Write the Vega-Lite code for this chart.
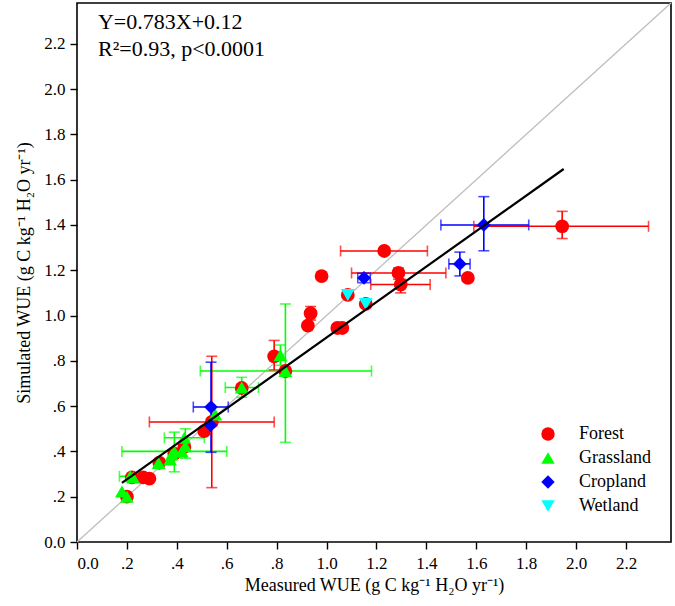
{
  "$schema": "https://vega.github.io/schema/vega-lite/v6.json",
  "width": 594,
  "height": 539,
  "autosize": "none",
  "padding": {"left": 77, "top": 3, "right": 4, "bottom": 64},
  "background": "white",
  "config": {
    "font": "Liberation Serif, Times New Roman, serif",
    "view": {"stroke": "black", "strokeWidth": 1.6},
    "axis": {
      "domain": false, "grid": false, "tickColor": "black", "tickSize": 7, "tickWidth": 1.4,
      "labelColor": "black", "labelFontSize": 17, "labelFont": "Liberation Serif, Times New Roman, serif",
      "titleFont": "Liberation Serif, Times New Roman, serif", "titleFontSize": 18, "titleFontWeight": "normal", "titleColor": "black"
    },
    "legend": {"orient": "none", "legendX": 462, "legendY": 422, "labelFontSize": 18, "labelFont": "Liberation Serif, Times New Roman, serif", "labelColor": "black", "symbolSize": 180, "symbolOpacity": 1, "labelOffset": 22, "rowPadding": 6, "symbolStrokeWidth": 0, "padding": 0, "titleFontSize": 0}
  },
  "datasets": {
    "pts": [
      {"type": "Forest", "x": 0.20, "y": 0.20},
      {"type": "Forest", "x": 0.22, "y": 0.285},
      {"type": "Forest", "x": 0.265, "y": 0.285},
      {"type": "Forest", "x": 0.29, "y": 0.28},
      {"type": "Forest", "x": 0.33, "y": 0.35},
      {"type": "Forest", "x": 0.39, "y": 0.39},
      {"type": "Forest", "x": 0.43, "y": 0.42},
      {"type": "Forest", "x": 0.51, "y": 0.49},
      {"type": "Forest", "x": 0.54, "y": 0.53, "xlo": 0.29, "xhi": 0.79, "ylo": 0.24, "yhi": 0.82},
      {"type": "Forest", "x": 0.66, "y": 0.68},
      {"type": "Forest", "x": 0.79, "y": 0.82, "ylo": 0.76, "yhi": 0.89},
      {"type": "Forest", "x": 0.835, "y": 0.755},
      {"type": "Forest", "x": 0.925, "y": 0.955},
      {"type": "Forest", "x": 0.936, "y": 1.01, "ylo": 0.98, "yhi": 1.04},
      {"type": "Forest", "x": 0.98, "y": 1.174},
      {"type": "Forest", "x": 1.043, "y": 0.945},
      {"type": "Forest", "x": 1.063, "y": 0.945},
      {"type": "Forest", "x": 1.085, "y": 1.091},
      {"type": "Forest", "x": 1.157, "y": 1.051},
      {"type": "Forest", "x": 1.231, "y": 1.285, "xlo": 1.056, "xhi": 1.404},
      {"type": "Forest", "x": 1.288, "y": 1.188, "xlo": 1.10, "xhi": 1.478, "ylo": 1.16, "yhi": 1.21},
      {"type": "Forest", "x": 1.297, "y": 1.137, "xlo": 1.177, "xhi": 1.415, "ylo": 1.10, "yhi": 1.16},
      {"type": "Forest", "x": 1.566, "y": 1.166},
      {"type": "Forest", "x": 1.944, "y": 1.394, "xlo": 1.59, "xhi": 2.29, "ylo": 1.34, "yhi": 1.46},
      {"type": "Grassland", "x": 0.18, "y": 0.223},
      {"type": "Grassland", "x": 0.20, "y": 0.20},
      {"type": "Grassland", "x": 0.213, "y": 0.29, "xlo": 0.17, "xhi": 0.26},
      {"type": "Grassland", "x": 0.225, "y": 0.285},
      {"type": "Grassland", "x": 0.327, "y": 0.349},
      {"type": "Grassland", "x": 0.373, "y": 0.364},
      {"type": "Grassland", "x": 0.38, "y": 0.386},
      {"type": "Grassland", "x": 0.39, "y": 0.40, "xlo": 0.18, "xhi": 0.60, "ylo": 0.31, "yhi": 0.485},
      {"type": "Grassland", "x": 0.42, "y": 0.40},
      {"type": "Grassland", "x": 0.434, "y": 0.423, "ylo": 0.37, "yhi": 0.50},
      {"type": "Grassland", "x": 0.43, "y": 0.46, "xlo": 0.35, "xhi": 0.51},
      {"type": "Grassland", "x": 0.554, "y": 0.563},
      {"type": "Grassland", "x": 0.66, "y": 0.682, "xlo": 0.594, "xhi": 0.727, "ylo": 0.639, "yhi": 0.727},
      {"type": "Grassland", "x": 0.815, "y": 0.825, "ylo": 0.78, "yhi": 0.87},
      {"type": "Grassland", "x": 0.835, "y": 0.755, "xlo": 0.494, "xhi": 1.18, "ylo": 0.44, "yhi": 1.051},
      {"type": "Cropland", "x": 0.535, "y": 0.515},
      {"type": "Cropland", "x": 0.537, "y": 0.596, "xlo": 0.466, "xhi": 0.606, "ylo": 0.396, "yhi": 0.794},
      {"type": "Cropland", "x": 1.15, "y": 1.166, "xlo": 1.125, "xhi": 1.175, "ylo": 1.145, "yhi": 1.187},
      {"type": "Cropland", "x": 1.534, "y": 1.228, "xlo": 1.49, "xhi": 1.575, "ylo": 1.175, "yhi": 1.28},
      {"type": "Cropland", "x": 1.63, "y": 1.40, "xlo": 1.458, "xhi": 1.81, "ylo": 1.286, "yhi": 1.525},
      {"type": "Wetland", "x": 1.085, "y": 1.091},
      {"type": "Wetland", "x": 1.157, "y": 1.051}
    ]
  },
  "layer": [
    {
      "data": {"values": [{"a": 0, "b": 0, "a2": 2.38, "b2": 2.38}]},
      "mark": {"type": "rule", "color": "#BDBDBD", "strokeWidth": 1.3},
      "encoding": {
        "x": {"field": "a", "type": "quantitative", "scale": {"domain": [0, 2.38], "nice": false},
          "axis": {"values": [0, 0.2, 0.4, 0.6, 0.8, 1.0, 1.2, 1.4, 1.6, 1.8, 2.0, 2.2],
            "labelExpr": "datum.value == 0 ? '0.0' : (datum.value < 1 ? replace(format(datum.value, '.1f'), '0.', '.') : format(datum.value, '.1f'))",
            "title": "Measured WUE (g C kg⁻¹ H₂O yr⁻¹)", "titlePadding": 5, "labelPadding": 6}},
        "y": {"field": "b", "type": "quantitative", "scale": {"domain": [0, 2.38], "nice": false},
          "axis": {"values": [0, 0.2, 0.4, 0.6, 0.8, 1.0, 1.2, 1.4, 1.6, 1.8, 2.0, 2.2],
            "labelExpr": "datum.value == 0 ? '0.0' : (datum.value < 1 ? replace(format(datum.value, '.1f'), '0.', '.') : format(datum.value, '.1f'))",
            "title": "Simulated WUE (g C kg⁻¹ H₂O yr⁻¹)", "titlePadding": 10, "labelPadding": 5}},
        "x2": {"field": "a2"},
        "y2": {"field": "b2"}
      }
    },
    {
      "data": {"name": "pts"},
      "transform": [{"filter": "isValid(datum.xlo)"}],
      "layer": [
        {"mark": {"type": "rule", "strokeWidth": 1.6},
         "encoding": {"x": {"field": "xlo", "type": "quantitative"}, "x2": {"field": "xhi"}, "y": {"field": "y", "type": "quantitative"},
           "color": {"field": "type", "type": "nominal", "title": null}}},
        {"mark": {"type": "tick", "orient": "vertical", "size": 11, "thickness": 1.6},
         "encoding": {"x": {"field": "xlo", "type": "quantitative"}, "y": {"field": "y", "type": "quantitative"},
           "color": {"field": "type", "type": "nominal", "title": null}}},
        {"mark": {"type": "tick", "orient": "vertical", "size": 11, "thickness": 1.6},
         "encoding": {"x": {"field": "xhi", "type": "quantitative"}, "y": {"field": "y", "type": "quantitative"},
           "color": {"field": "type", "type": "nominal", "title": null}}}
      ]
    },
    {
      "data": {"name": "pts"},
      "transform": [{"filter": "isValid(datum.ylo)"}],
      "layer": [
        {"mark": {"type": "rule", "strokeWidth": 1.6},
         "encoding": {"y": {"field": "ylo", "type": "quantitative"}, "y2": {"field": "yhi"}, "x": {"field": "x", "type": "quantitative"},
           "color": {"field": "type", "type": "nominal", "title": null}}},
        {"mark": {"type": "tick", "orient": "horizontal", "size": 11, "thickness": 1.6},
         "encoding": {"y": {"field": "ylo", "type": "quantitative"}, "x": {"field": "x", "type": "quantitative"},
           "color": {"field": "type", "type": "nominal", "title": null}}},
        {"mark": {"type": "tick", "orient": "horizontal", "size": 11, "thickness": 1.6},
         "encoding": {"y": {"field": "yhi", "type": "quantitative"}, "x": {"field": "x", "type": "quantitative"},
           "color": {"field": "type", "type": "nominal", "title": null}}}
      ]
    },
    {
      "data": {"name": "pts"},
      "mark": {"type": "point", "filled": true, "size": 190, "opacity": 1},
      "encoding": {
        "x": {"field": "x", "type": "quantitative"},
        "y": {"field": "y", "type": "quantitative"},
        "color": {"field": "type", "type": "nominal", "title": null,
          "scale": {"domain": ["Forest", "Grassland", "Cropland", "Wetland"], "range": ["#FF0000", "#00FF00", "#0000FF", "#00FFFF"]}},
        "shape": {"field": "type", "type": "nominal", "title": null,
          "scale": {"domain": ["Forest", "Grassland", "Cropland", "Wetland"], "range": ["circle", "triangle-up", "diamond", "triangle-down"]}}
      }
    },
    {
      "data": {"values": [{"x": 0.18, "y": 0.261}, {"x": 1.95, "y": 1.647}]},
      "mark": {"type": "line", "color": "black", "strokeWidth": 2.2},
      "encoding": {"x": {"field": "x", "type": "quantitative"}, "y": {"field": "y", "type": "quantitative"}}
    },
    {
      "data": {"values": [{"x": 0.084, "y": 2.265, "t": "Y=0.783X+0.12"}, {"x": 0.084, "y": 2.145, "t": "R²=0.93, p<0.0001"}]},
      "mark": {"type": "text", "align": "left", "baseline": "alphabetic", "fontSize": 22, "color": "black"},
      "encoding": {"x": {"field": "x", "type": "quantitative"}, "y": {"field": "y", "type": "quantitative"}, "text": {"field": "t"}}
    }
  ]
}
